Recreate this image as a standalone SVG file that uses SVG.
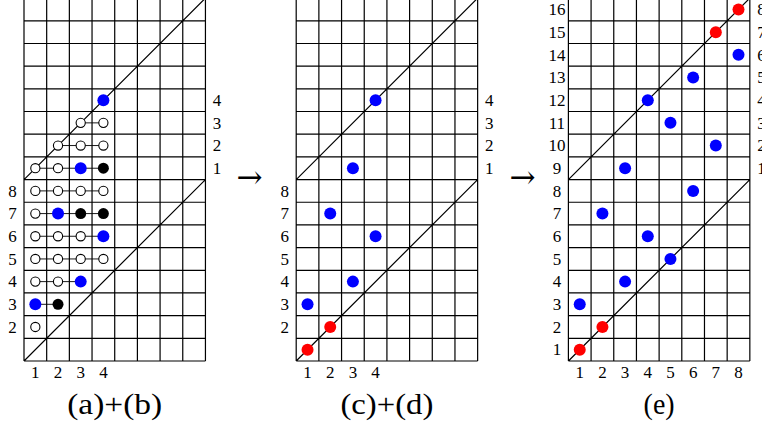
<svg xmlns="http://www.w3.org/2000/svg" xmlns:xlink="http://www.w3.org/1999/xlink" width="762" height="428" viewBox="0 0 762 428">
<style>
.grid{fill:none;stroke:#000;stroke-width:1.2}
.lbl{font-family:"Liberation Serif","DejaVu Serif",serif;font-size:17px;fill:#000;text-anchor:middle}
.cap{font-family:"Liberation Serif","DejaVu Serif",serif;font-size:29px;fill:#000;text-anchor:middle}
.arr{font-family:"DejaVu Serif","Liberation Serif",serif;font-size:32px;fill:#000}
.open{fill:#fff;stroke:#000;stroke-width:1.1}
.blk{fill:#000}
.blue{fill:#0000ff}
.red{fill:#ff0000}
.link{stroke:#000;stroke-width:0.9;fill:none}
</style>
<defs>
<g id="grid">
<path class="grid" d="M0,-2V361M22.68,-2V361M45.36,-2V361M68.04,-2V361M90.72,-2V361M113.4,-2V361M136.08,-2V361M158.76,-2V361M181.44,-2V361
M0,361H181.44M0,338.32H181.44M0,315.64H181.44M0,292.96H181.44M0,270.28H181.44M0,247.6H181.44M0,224.92H181.44M0,202.24H181.44M0,179.56H181.44M0,156.88H181.44M0,134.2H181.44M0,111.52H181.44M0,88.84H181.44M0,66.16H181.44M0,43.48H181.44M0,20.8H181.44
M0,361L181.44,179.56M0,179.56L181.44,-1.88"/>
</g>
</defs>

<g id="panel-ab" transform="translate(24,0)">
<use xlink:href="#grid" href="#grid"/>
<g id="links-ab">
<path class="link" d="M11.34,304.3H34.02M11.34,281.62H56.7M11.34,258.94H79.38M11.34,236.26H79.38M11.34,213.58H79.38M11.34,190.9H79.38M11.34,168.22H79.38M34.02,145.54H79.38M56.7,122.86H79.38"/>
</g>
<g id="dots-ab">
<circle class="open" cx="11.34" cy="326.98" r="4.6"/>
<circle class="blue" cx="11.34" cy="304.3" r="6"/>
<circle class="blk" cx="34.02" cy="304.3" r="5.5"/>
<circle class="open" cx="11.34" cy="281.62" r="4.6"/>
<circle class="open" cx="34.02" cy="281.62" r="4.6"/>
<circle class="blue" cx="56.7" cy="281.62" r="6"/>
<circle class="open" cx="11.34" cy="258.94" r="4.6"/>
<circle class="open" cx="34.02" cy="258.94" r="4.6"/>
<circle class="open" cx="56.7" cy="258.94" r="4.6"/>
<circle class="open" cx="79.38" cy="258.94" r="4.6"/>
<circle class="open" cx="11.34" cy="236.26" r="4.6"/>
<circle class="open" cx="34.02" cy="236.26" r="4.6"/>
<circle class="open" cx="56.7" cy="236.26" r="4.6"/>
<circle class="blue" cx="79.38" cy="236.26" r="6"/>
<circle class="open" cx="11.34" cy="213.58" r="4.6"/>
<circle class="blue" cx="34.02" cy="213.58" r="6"/>
<circle class="blk" cx="56.7" cy="213.58" r="5.5"/>
<circle class="blk" cx="79.38" cy="213.58" r="5.5"/>
<circle class="open" cx="11.34" cy="190.9" r="4.6"/>
<circle class="open" cx="34.02" cy="190.9" r="4.6"/>
<circle class="open" cx="56.7" cy="190.9" r="4.6"/>
<circle class="open" cx="79.38" cy="190.9" r="4.6"/>
<circle class="open" cx="11.34" cy="168.22" r="4.6"/>
<circle class="open" cx="34.02" cy="168.22" r="4.6"/>
<circle class="blue" cx="56.7" cy="168.22" r="6"/>
<circle class="blk" cx="79.38" cy="168.22" r="5.5"/>
<circle class="open" cx="34.02" cy="145.54" r="4.6"/>
<circle class="open" cx="56.7" cy="145.54" r="4.6"/>
<circle class="open" cx="79.38" cy="145.54" r="4.6"/>
<circle class="open" cx="56.7" cy="122.86" r="4.6"/>
<circle class="open" cx="79.38" cy="122.86" r="4.6"/>
<circle class="blue" cx="79.38" cy="100.18" r="6"/>
</g>
<g id="labels-ab">
<text class="lbl" x="-11.5" y="196.6">8</text>
<text class="lbl" x="-11.5" y="219.3">7</text>
<text class="lbl" x="-11.5" y="242">6</text>
<text class="lbl" x="-11.5" y="264.6">5</text>
<text class="lbl" x="-11.5" y="287.3">4</text>
<text class="lbl" x="-11.5" y="310">3</text>
<text class="lbl" x="-11.5" y="332.7">2</text>
<text class="lbl" x="193.1" y="173.9">1</text>
<text class="lbl" x="193.1" y="151.2">2</text>
<text class="lbl" x="193.1" y="128.6">3</text>
<text class="lbl" x="193.1" y="105.9">4</text>
<text class="lbl" x="11.34" y="378">1</text>
<text class="lbl" x="34.02" y="378">2</text>
<text class="lbl" x="56.7" y="378">3</text>
<text class="lbl" x="79.38" y="378">4</text>
<text class="cap" x="90.7" y="414" textLength="95" lengthAdjust="spacingAndGlyphs">(a)+(b)</text>
</g>
</g>

<text id="arrow-1" class="arr" x="236.5" y="187.5" textLength="26" lengthAdjust="spacingAndGlyphs">→</text>

<g id="panel-cd" transform="translate(296.2,0)">
<use xlink:href="#grid" href="#grid"/>
<g id="dots-cd">
<circle class="blue" cx="79.38" cy="100.18" r="6"/>
<circle class="blue" cx="56.7" cy="168.22" r="6"/>
<circle class="blue" cx="34.02" cy="213.58" r="6"/>
<circle class="blue" cx="79.38" cy="236.26" r="6"/>
<circle class="blue" cx="56.7" cy="281.62" r="6"/>
<circle class="blue" cx="11.34" cy="304.3" r="6"/>
<circle class="red" cx="34.02" cy="326.98" r="6"/>
<circle class="red" cx="11.34" cy="349.66" r="6"/>
</g>
<g id="labels-cd">
<text class="lbl" x="-11.5" y="196.6">8</text>
<text class="lbl" x="-11.5" y="219.3">7</text>
<text class="lbl" x="-11.5" y="242">6</text>
<text class="lbl" x="-11.5" y="264.6">5</text>
<text class="lbl" x="-11.5" y="287.3">4</text>
<text class="lbl" x="-11.5" y="310">3</text>
<text class="lbl" x="-11.5" y="332.7">2</text>
<text class="lbl" x="193.1" y="173.9">1</text>
<text class="lbl" x="193.1" y="151.2">2</text>
<text class="lbl" x="193.1" y="128.6">3</text>
<text class="lbl" x="193.1" y="105.9">4</text>
<text class="lbl" x="11.34" y="378">1</text>
<text class="lbl" x="34.02" y="378">2</text>
<text class="lbl" x="56.7" y="378">3</text>
<text class="lbl" x="79.38" y="378">4</text>
<text class="cap" x="90.7" y="414" textLength="93" lengthAdjust="spacingAndGlyphs">(c)+(d)</text>
</g>
</g>

<text id="arrow-2" class="arr" x="509.5" y="187.5" textLength="26" lengthAdjust="spacingAndGlyphs">→</text>

<g id="panel-e" transform="translate(568.4,0)">
<use xlink:href="#grid" href="#grid"/>
<g id="dots-e">
<circle class="red" cx="170.1" cy="9.46" r="6"/>
<circle class="red" cx="147.42" cy="32.14" r="6"/>
<circle class="blue" cx="170.1" cy="54.82" r="6"/>
<circle class="blue" cx="124.74" cy="77.5" r="6"/>
<circle class="blue" cx="79.38" cy="100.18" r="6"/>
<circle class="blue" cx="102.06" cy="122.86" r="6"/>
<circle class="blue" cx="147.42" cy="145.54" r="6"/>
<circle class="blue" cx="56.7" cy="168.22" r="6"/>
<circle class="blue" cx="124.74" cy="190.9" r="6"/>
<circle class="blue" cx="34.02" cy="213.58" r="6"/>
<circle class="blue" cx="79.38" cy="236.26" r="6"/>
<circle class="blue" cx="102.06" cy="258.94" r="6"/>
<circle class="blue" cx="56.7" cy="281.62" r="6"/>
<circle class="blue" cx="11.34" cy="304.3" r="6"/>
<circle class="red" cx="34.02" cy="326.98" r="6"/>
<circle class="red" cx="11.34" cy="349.66" r="6"/>
</g>
<g id="labels-e">
<text class="lbl" x="-11.5" y="15.2">16</text>
<text class="lbl" x="-11.5" y="37.9">15</text>
<text class="lbl" x="-11.5" y="60.5">14</text>
<text class="lbl" x="-11.5" y="83.2">13</text>
<text class="lbl" x="-11.5" y="105.9">12</text>
<text class="lbl" x="-11.5" y="128.6">11</text>
<text class="lbl" x="-11.5" y="151.2">10</text>
<text class="lbl" x="-11.5" y="173.9">9</text>
<text class="lbl" x="-11.5" y="196.6">8</text>
<text class="lbl" x="-11.5" y="219.3">7</text>
<text class="lbl" x="-11.5" y="242">6</text>
<text class="lbl" x="-11.5" y="264.6">5</text>
<text class="lbl" x="-11.5" y="287.3">4</text>
<text class="lbl" x="-11.5" y="310">3</text>
<text class="lbl" x="-11.5" y="332.7">2</text>
<text class="lbl" x="-11.5" y="355.4">1</text>
<text class="lbl" x="193.1" y="15.2">8</text>
<text class="lbl" x="193.1" y="37.9">7</text>
<text class="lbl" x="193.1" y="60.5">6</text>
<text class="lbl" x="193.1" y="83.2">5</text>
<text class="lbl" x="193.1" y="105.9">4</text>
<text class="lbl" x="193.1" y="128.6">3</text>
<text class="lbl" x="193.1" y="151.2">2</text>
<text class="lbl" x="193.1" y="173.9">1</text>
<text class="lbl" x="11.34" y="378">1</text>
<text class="lbl" x="34.02" y="378">2</text>
<text class="lbl" x="56.7" y="378">3</text>
<text class="lbl" x="79.38" y="378">4</text>
<text class="lbl" x="102.06" y="378">5</text>
<text class="lbl" x="124.74" y="378">6</text>
<text class="lbl" x="147.42" y="378">7</text>
<text class="lbl" x="170.1" y="378">8</text>
<text class="cap" x="90.7" y="414" textLength="31" lengthAdjust="spacingAndGlyphs">(e)</text>
</g>
</g>
</svg>
